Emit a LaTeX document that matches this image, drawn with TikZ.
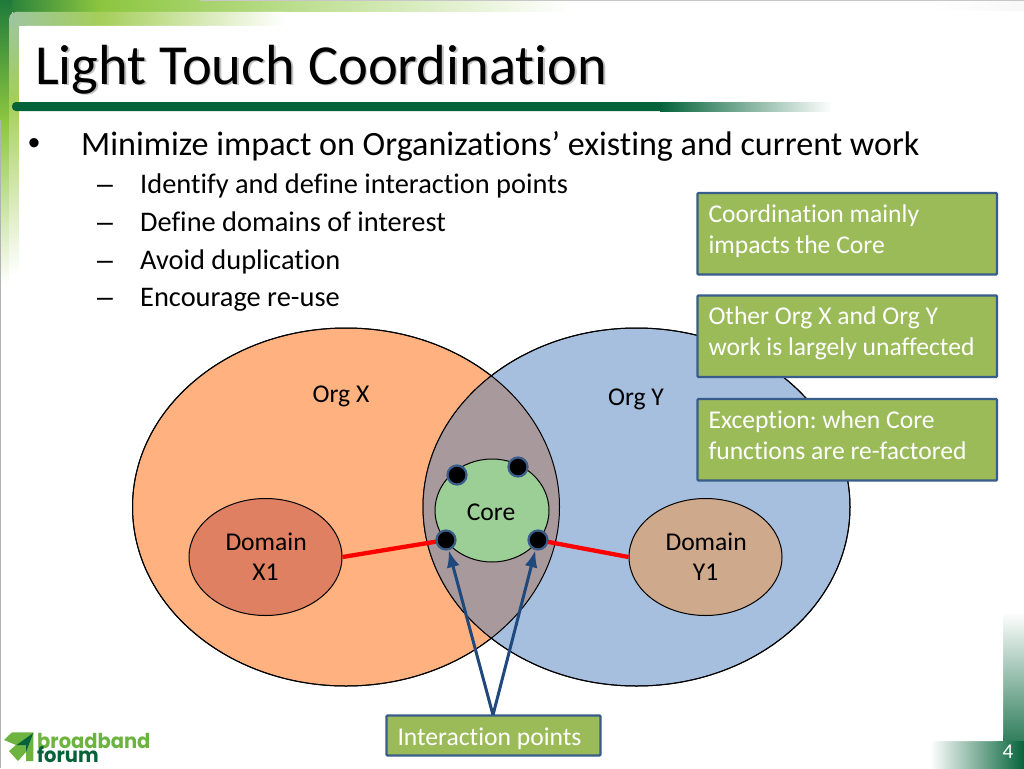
\documentclass[tikz,border=0pt]{standalone}
\usepackage{fontspec}
\setmainfont[Ligatures=NoCommon]{Carlito}
\newfontfamily\logofont[FakeStretch=.95]{Poppins}
\newfontfamily\markfont{Liberation Sans}
\usetikzlibrary{arrows.meta,shapes.geometric}
\definecolor{dkgreen}{HTML}{05633A}
\definecolor{cornergreen}{HTML}{1F7A3A}
\definecolor{midgreen}{HTML}{8CC63F}
\definecolor{limegreen}{HTML}{A5CE5A}
\definecolor{palegreen}{HTML}{9DC5A0}
\definecolor{boxgreen}{HTML}{9BBB59}
\definecolor{boxline}{HTML}{385D8A}
\definecolor{orgx}{HTML}{FFB27F}
\definecolor{orgy}{HTML}{A7BFDE}
\definecolor{overlapc}{HTML}{A8999C}
\definecolor{corec}{HTML}{9BCF96}
\definecolor{domx}{HTML}{DF8062}
\definecolor{domy}{HTML}{CFA98C}
\definecolor{arrowc}{HTML}{1F497D}
\definecolor{logolight}{HTML}{6DB33F}
\newcommand{\liftup}{\rule[-10pt]{0pt}{10pt}}
\tikzset{
 calloutbox/.style={draw=boxline,line width=2.4pt,outer sep=0pt,rounded corners=1pt,fill=boxgreen,text=white,minimum width=299.5pt,minimum height=81.5pt,anchor=north west,align=left,font=\fontsize{25.6}{31}\selectfont,text width=277.5pt,inner sep=0pt,inner xsep=11pt,execute at begin node={\frenchspacing\spaceskip=0pt\xspaceskip=0pt\relax}},
 orglabel/.style={font=\fontsize{25.6}{30}\selectfont,align=center,inner sep=0pt},
 region/.style={ellipse,draw=black,line width=1pt,inner sep=0pt},
 ipdot/.style={circle,fill=black,draw=boxline,line width=2.2pt,minimum size=19pt,inner sep=0pt},
 redlink/.style={draw=red,line width=4.3pt},
 pointer/.style={draw=arrowc,line width=3pt,-{Latex[length=17pt,width=13pt]}},
 bullettext/.style={anchor=base west,inner sep=0pt,font=\fontsize{28.4}{30}\selectfont},
 headtext/.style={anchor=base west,inner sep=0pt,font=\fontsize{34.1}{36}\selectfont},
 titletext/.style={anchor=base west,inner sep=0pt,font=\fontsize{56.6}{60}\selectfont},
}
\begin{document}
\begin{tikzpicture}[x=1pt,y=-1pt]
\useasboundingbox (0,0) rectangle (1024,768);
\fill[white] (0,0) rectangle (1024,768);
% outer band
\fill[left color=midgreen,right color=white] (100,0) rectangle (570,12);
\fill[left color=cornergreen,right color=midgreen] (0,0) rectangle (100,12);
\fill[top color=cornergreen,bottom color=midgreen] (0,0) rectangle (12,120);
\fill[top color=midgreen,bottom color=white] (0,120) rectangle (12,285);
\fill[left color=white,right color=black!3] (930,1) rectangle (1024,11);
\fill[black!22] (200,0) rectangle (1024,1);
\fill[black!30] (0,120) rectangle (1,768);
% inner band
\begin{scope}
 \clip[rounded corners=7pt] (9,12) rectangle (400,500);
 \fill[white] (9,12) rectangle (400,500);
 \fill[top color=palegreen,bottom color=limegreen] (9,12) rectangle (19,100);
 \fill[top color=limegreen,bottom color=white] (9,100) rectangle (19,275);
 \fill[left color=palegreen,right color=limegreen] (9,12) rectangle (100,26);
 \fill[left color=limegreen,right color=white] (100,12) rectangle (285,26);
\end{scope}
\fill[white,rounded corners=7pt] (19,26) rectangle (300,200);
\fill[white] (19,100) rectangle (60,400);
% bottom-right
\fill[top color=white,bottom color=dkgreen] (1003,612) rectangle (1024,768);
\fill[left color=white,right color=dkgreen] (930,741) rectangle (1024,768);
\fill[white,rounded corners=6pt] (800,600) rectangle (1003,741);
\node[font=\fontsize{21}{22}\selectfont,text=white,inner sep=0pt] (pagenum) at (1008,752) {4};
% title
\node[titletext,text=black!60,opacity=.4] (titleshadow) at (36.5,85.5) {Light Touch Coordination};
\node[titletext] (title) at (35,84) {Light Touch Coordination};
% rule
\fill[dkgreen,rounded corners=4pt] (12,102) rectangle (680,111);
\fill[left color=dkgreen,right color=white] (660,102) rectangle (832,111);
% bullets
\node[headtext,font=\markfont\fontsize{34.1}{36}\selectfont] (b0m) at (28,154) {•};
\node[headtext] (b0) at (81,155) {Minimize impact on Organizations’ existing and current work};
\foreach \yy/\tt/\nn in {193/Identify and define interaction points/b1,231/Define domains of interest/b2,269/Avoid duplication/b3,306/Encourage re-use/b4}{
 \node[bullettext,font=\markfont\fontsize{28.4}{30}\selectfont] (\nn m) at (97,\yy) {–};
 \node[bullettext] (\nn) at (140,\yy) {\tt};
}
% venn
\node[region,fill=orgx,minimum width=427pt,minimum height=358pt] (orgX) at (346,507) {};
\node[region,fill=orgy,minimum width=427pt,minimum height=358pt] (orgY) at (636.5,507) {};
\begin{scope}
 \clip (346,507) ellipse [x radius=213.5pt,y radius=179pt];
 \fill[overlapc] (636.5,507) ellipse [x radius=213.5pt,y radius=179pt];
\end{scope}
\draw[black,line width=1pt] (346,507) ellipse [x radius=213.5pt,y radius=179pt];
\draw[black,line width=1pt] (636.5,507) ellipse [x radius=213.5pt,y radius=179pt];
\node[orglabel] (labX) at (341,396) {Org X};
\node[orglabel] (labY) at (636,399) {Org Y};
\node[region,fill=corec,minimum width=114pt,minimum height=103pt] (core) at (492,510.5) {};
\node[orglabel] (corelab) at (491,512) {Core};
\node[region,fill=domx,minimum width=153pt,minimum height=117pt,orglabel,text width=80pt] (domX) at (265.5,557) {Domain\\X1};
\node[region,fill=domy,minimum width=153pt,minimum height=117pt,orglabel,text width=80pt] (domY) at (705.5,557) {Domain\\Y1};
\node[ipdot] (p3) at (457,475) {};
\node[ipdot] (p4) at (518,467) {};
\draw[redlink] (domX.east) -- (446,540);
\draw[redlink] (domY.west) -- (538,540);
\node[ipdot] (p1) at (446,540) {};
\node[ipdot] (p2) at (538,540) {};
% callouts
\node[calloutbox] (c1) at (697.5,193) {Coordination mainly\\impacts the Core\liftup};
\node[calloutbox] (c2) at (697.5,295.5) {Other Org X and Org Y\\work is largely unaffected\liftup};
\node[calloutbox] (c3) at (697.5,399) {Exception: when Core\\functions are re-factored\liftup};
\node[calloutbox,minimum width=214pt,minimum height=40pt,text width=192pt] (c4) at (386.5,715.5) {\rule{0pt}{25pt}Interaction points};
\coordinate (tip) at (493,715);
\draw[pointer] (tip) -- (p1);
\draw[pointer] (tip) -- (p2);
% logo
\fill[logolight] (4,740) -- (12,732.3) -- (33.3,732.3) -- (33.3,761) -- (26,761) -- (26,752) -- (18,761) -- (9,751) -- (16,745) -- cycle;
\fill[dkgreen] (16.5,745) -- (33.3,733) -- (26,752) -- (26,745) -- cycle;
\node[anchor=base west,inner sep=0pt,font=\logofont\bfseries\fontsize{20.5}{22}\selectfont,text=logolight] (logoa) at (37,748) {broadband};
\node[anchor=base west,inner sep=0pt,font=\logofont\bfseries\fontsize{20.5}{22}\selectfont,text=dkgreen] (logob) at (37,762) {forum};
\end{tikzpicture}
\end{document}
